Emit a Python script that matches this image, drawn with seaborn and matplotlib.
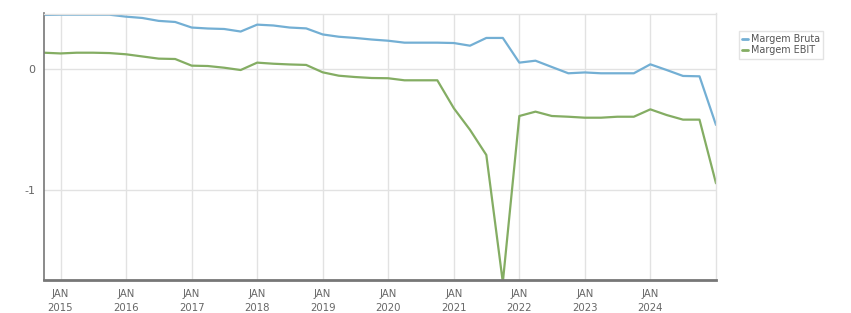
import numpy as np
import pandas as pd
import matplotlib
matplotlib.use("Agg")
import matplotlib.pyplot as plt
import seaborn as sns

# quarterly dates (Oct 2014 .. Jan 2025)
dates = pd.date_range("2014-10-01", "2025-01-01", freq="QS")

margem_bruta = [0.449, 0.451, 0.451, 0.451, 0.451, 0.435, 0.424, 0.400, 0.391, 0.345,
                0.337, 0.333, 0.312, 0.369, 0.362, 0.345, 0.338, 0.288, 0.269, 0.259,
                0.246, 0.236, 0.220, 0.220, 0.220, 0.217, 0.195, 0.259, 0.259, 0.055,
                0.071, 0.019, -0.033, -0.026, -0.033, -0.033, -0.033, 0.041, -0.006,
                -0.055, -0.058, -0.460]
margem_ebit = [0.137, 0.131, 0.137, 0.137, 0.134, 0.124, 0.106, 0.088, 0.085, 0.030,
               0.027, 0.013, -0.006, 0.055, 0.046, 0.040, 0.036, -0.025, -0.053, -0.064,
               -0.072, -0.074, -0.091, -0.091, -0.091, -0.322, -0.500, -0.708, -1.760,
               -0.386, -0.350, -0.386, -0.392, -0.400, -0.400, -0.392, -0.392, -0.331,
               -0.378, -0.416, -0.416, -0.942]
series_names = ["Margem Bruta", "Margem EBIT"]
colors = ["#73afd4", "#84ad63"]
year_ticks = list(range(2015, 2025))

df = pd.DataFrame({
    "date": list(dates) * 2,
    "value": margem_bruta + margem_ebit,
    "serie": [series_names[0]] * len(dates) + [series_names[1]] * len(dates),
})

sns.set_style("white")
plt.rcParams["font.family"] = ["DejaVu Sans"]

fig = plt.figure(figsize=(8.51, 3.13), dpi=100)
ax = fig.add_axes([44 / 851, 1 - 279.5 / 313, (716 - 44) / 851, (279.5 - 13.5) / 313])

sns.lineplot(data=df, x="date", y="value", hue="serie", palette=colors,
             linewidth=1.6, ax=ax, legend=True)

ax.set_xlim(pd.Timestamp("2014-10-01"), pd.Timestamp("2025-01-01"))
ax.set_ylim(-1.737, 0.461)

xt = [pd.Timestamp(f"{y}-01-01") for y in year_ticks]
ax.set_xticks(xt)
ax.set_xticklabels([f"JAN\n{y}" for y in year_ticks])
ax.set_yticks([0, -1])
ax.set_yticklabels(["0", "-1"])
ax.set_xlabel("")
ax.set_ylabel("")

ax.grid(True, color="#e2e2e2", linewidth=1)
ax.set_axisbelow(True)
for s in ["top", "right"]:
    ax.spines[s].set_color("#e2e2e2")
    ax.spines[s].set_linewidth(1)
ax.spines["left"].set_color("#777777")
ax.spines["left"].set_linewidth(1.2)
ax.spines["bottom"].set_color("#777777")
ax.spines["bottom"].set_linewidth(2)

ax.tick_params(axis="x", colors="#777777", labelcolor="#666666", labelsize=7.3,
               length=4, width=1, direction="out", pad=3)
ax.tick_params(axis="y", colors="#777777", labelcolor="#666666", labelsize=8,
               length=4, width=1, direction="out", pad=2)
for lab in ax.get_xticklabels():
    lab.set_linespacing(1.5)

leg = ax.legend(loc="upper left", bbox_to_anchor=(1.027, 0.953), frameon=True,
                fontsize=6.9, handlelength=0.6, handletextpad=0.3,
                borderpad=0.35, labelspacing=0.12, fancybox=False)
leg.get_frame().set_edgecolor("#dddddd")
leg.get_frame().set_linewidth(1)
for t in leg.get_texts():
    t.set_color("#555555")
for h in leg.get_lines():
    h.set_linewidth(2)

fig.savefig("out.png", dpi=100)
